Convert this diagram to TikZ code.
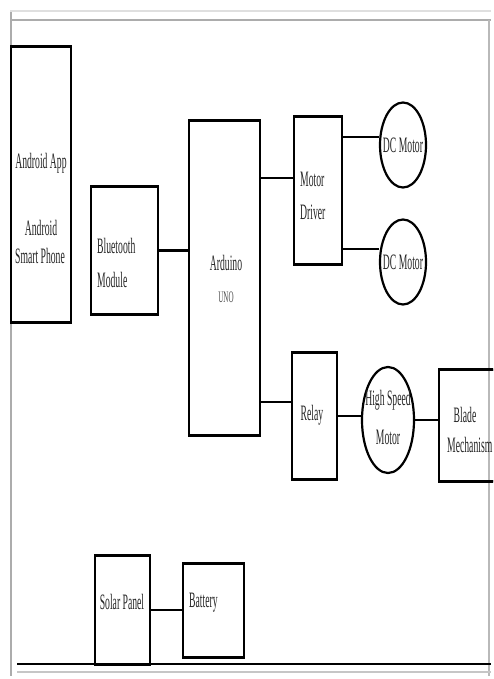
\documentclass[tikz,border=0pt]{standalone}
\usepackage{fontspec}
\setmainfont{Liberation Serif}[FakeStretch=0.44]
\usetikzlibrary{shapes.geometric}
\begin{document}
\begin{tikzpicture}[x=1pt,y=-1pt,
  box/.style={draw, line width=1.3pt, rectangle, inner sep=0pt},
  edgeline/.style={line width=2.8pt},
  conn/.style={line width=2.6pt},
  ell/.style={draw, ellipse, line width=2.2pt, inner sep=0pt},
  txt/.style={font=\fontsize{22}{22}\selectfont, inner sep=0pt, text=black!85},
  small/.style={font=\fontsize{16}{16}\selectfont, inner sep=0pt, text=black!70}]
\useasboundingbox (0,0) rectangle (493,679);
\clip (0,0) rectangle (493,679);
% frame
\draw[gray!25, line width=1.5pt] (10,11) -- (491,11);
\draw[gray!65, line width=2pt] (10,20) -- (491,20);
\draw[gray!65, line width=2pt] (11,12) -- (11,676);
\draw[gray!55, line width=2pt] (489,20) -- (489,676);
\draw[black, line width=1.5pt] (17,664) -- (491,664);
\draw[gray!45, line width=1.5pt] (17,672) -- (491,672);
% boxes
\node[box, minimum width=60pt, minimum height=275pt] (android) at (41,184.5) {};
\node[box, minimum width=67pt, minimum height=127pt] (bt) at (124.5,250.5) {};
\node[box, minimum width=71pt, minimum height=314pt] (ard) at (224.5,278) {};
\node[box, minimum width=48pt, minimum height=147pt] (md) at (318,190.5) {};
\node[box, minimum width=45pt, minimum height=126pt] (relay) at (314.5,416) {};
\node[box, minimum width=56pt, minimum height=111pt] (blade) at (467,425.5) {};
\node[box, minimum width=55pt, minimum height=108pt] (solar) at (122.5,610) {};
\node[box, minimum width=61pt, minimum height=93pt] (battery) at (213.5,610.5) {};
\foreach \n in {android,bt,ard,md,relay,blade,solar,battery}
  \draw[edgeline] (\n.north west) -- (\n.north east) (\n.south west) -- (\n.south east);
% ellipses
\node[ell, minimum width=46pt, minimum height=85pt] (dc1) at (403,145) {};
\node[ell, minimum width=46pt, minimum height=85pt] (dc2) at (403,262) {};
\node[ell, minimum width=52pt, minimum height=106pt] (hsm) at (388,420) {};
% connectors
\draw[conn] (bt.east) -- (bt.east -| ard.west);
\path (md.west) ++(0,-12.5) coordinate (a1);
\draw[conn] (a1 -| ard.east) -- (a1);
\path (md.east) ++(0,-53.5) coordinate (m1);
\draw[conn] (m1) -- (m1 -| dc1.west);
\path (md.east) ++(0,58.5) coordinate (m2);
\draw[conn] (m2) -- (m2 -| dc2.west);
\path (relay.west) ++(0,-14) coordinate (r1);
\draw[conn] (r1 -| ard.east) -- (r1);
\draw[conn] (relay.east) -- (relay.east -| hsm.west);
\draw[conn] (hsm.east) -- (hsm.east -| blade.west);
\draw[conn] (solar.east) -- (solar.east -| battery.west);
% texts
\node[txt] (tand1) at (41,163) {Android App};
\node[txt] (tand2) at (41,228) {Android};
\node[txt] (tand3) at (40,256) {Smart Phone};
\node[txt, anchor=west] (tbt1) at (97,246) {Bluetooth};
\node[txt, anchor=west] (tbt2) at (97,280) {Module};
\node[txt] (tard1) at (226,263) {Arduino};
\node[small] (tard2) at (226,297) {UNO};
\node[txt, anchor=west] (tmd1) at (300,179) {Motor};
\node[txt, anchor=west] (tmd2) at (300,212) {Driver};
\node[txt] (tdc1) at (dc1) {DC Motor};
\node[txt] (tdc2) at (dc2) {DC Motor};
\node[txt] (trel) at (312,415) {Relay};
\node[txt] (ths1) at (388,400) {High Speed};
\node[txt] (ths2) at (388,437) {Motor};
\node[txt] (tbl1) at (465,415) {Blade};
\node[txt, anchor=west] (tbl2) at (447,445) {Mechanism};
\node[txt] (tsol) at (122,602) {Solar Panel};
\node[txt, anchor=west] (tbat) at (189,603) {Battery};
\end{tikzpicture}
\end{document}
